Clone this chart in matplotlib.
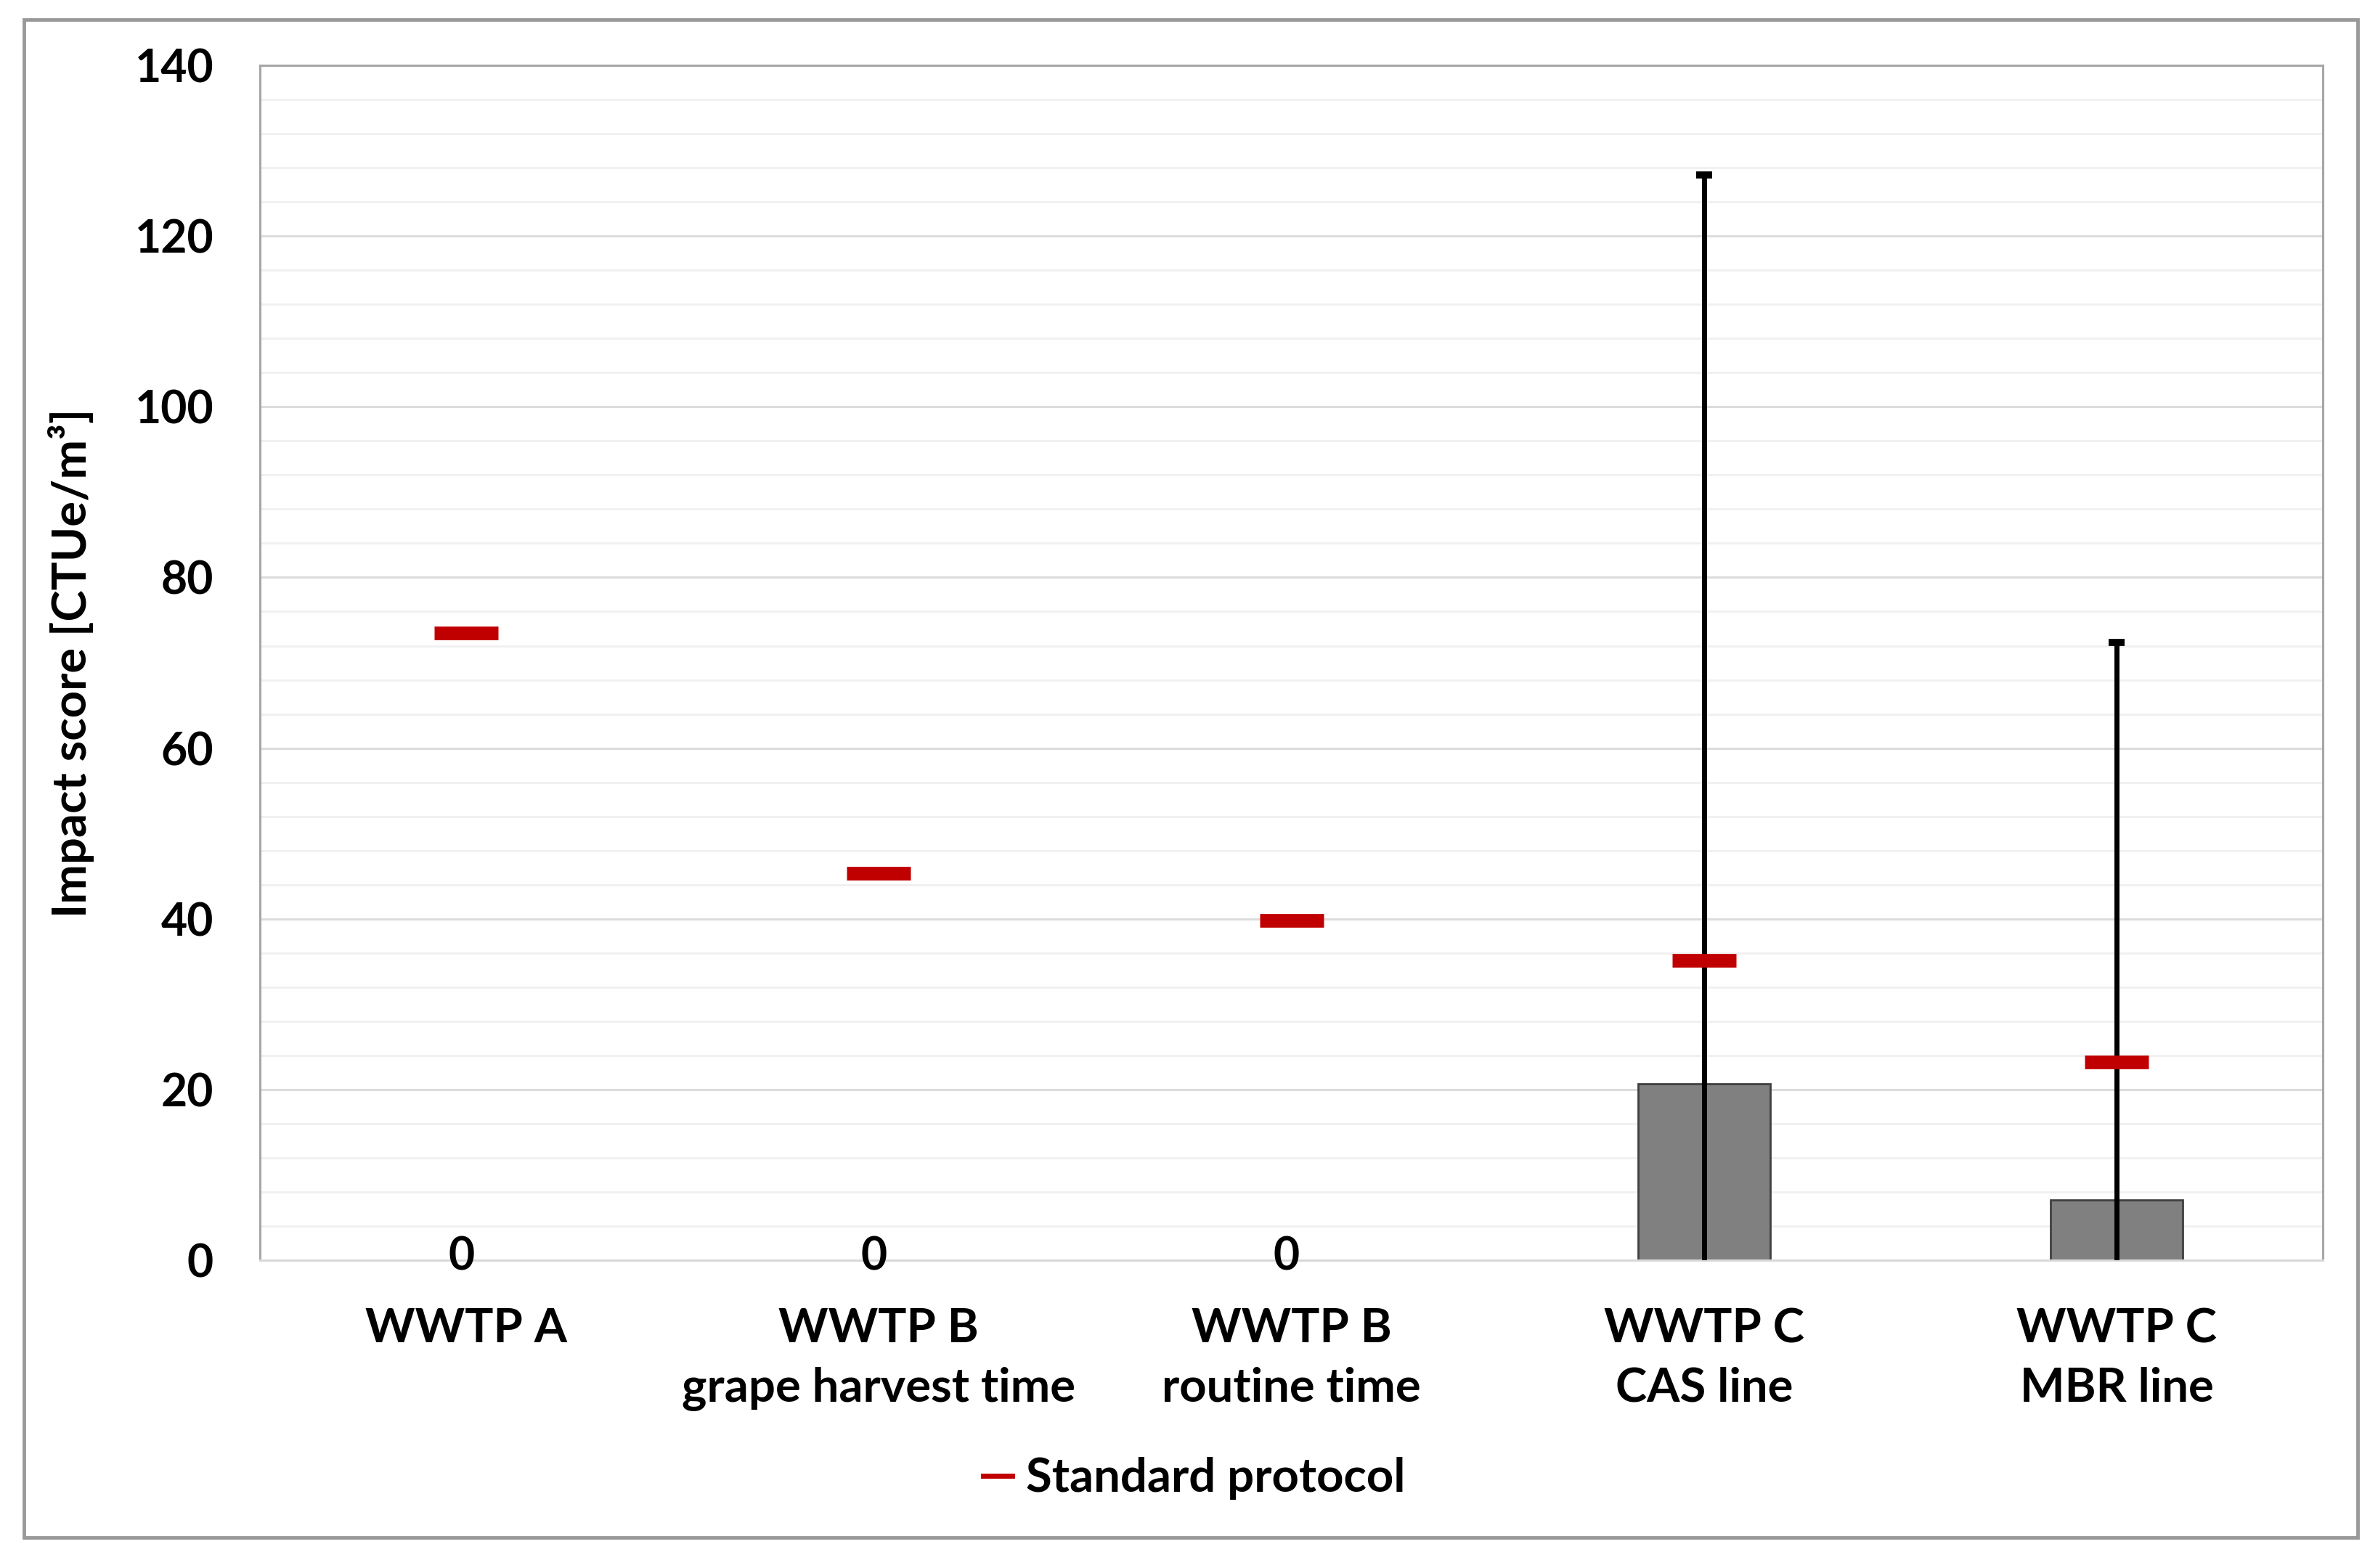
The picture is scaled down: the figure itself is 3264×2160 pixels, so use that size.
import matplotlib
matplotlib.use('Agg')
import matplotlib.pyplot as plt
from matplotlib.patches import Rectangle
from matplotlib.lines import Line2D
from matplotlib.ticker import MultipleLocator
import numpy as np

categories = ["WWTP A", "WWTP B\ngrape harvest time", "WWTP B\nroutine time",
              "WWTP C\nCAS line", "WWTP C\nMBR line"]
bar_values = [0, 0, 0, 20.7, 7.1]
bar_errors = [0, 0, 0, 106.5, 65.3]
standard_protocol = [73.5, 45.3, 39.8, 35.1, 23.2]
yticks = [0, 20, 40, 60, 80, 100, 120, 140]
legend_label = "Standard protocol"
ylabel = "Impact score [CTUe/m³]"

plt.rcParams['font.family'] = ['Lato', 'DejaVu Sans']
plt.rcParams['font.weight'] = 'bold'

fig = plt.figure(figsize=(32.64, 21.6), dpi=100)
ax = fig.add_axes([0.1097, 0.1963, 0.8704, 0.762])

x = np.arange(len(categories)) + 0.5
vals = np.array(bar_values, dtype=float)
errs = np.array(bar_errors, dtype=float)

# grid
ax.yaxis.set_major_locator(MultipleLocator(20))
ax.yaxis.set_minor_locator(MultipleLocator(4))
ax.grid(which='major', axis='y', color='#dcdcdc', lw=2.2, zorder=0)
ax.grid(which='minor', axis='y', color='#f0f0f0', lw=2.0, zorder=0)
ax.set_axisbelow(True)

ax.bar(x, vals, width=0.32, color='#808080', edgecolor='#404040', lw=2, zorder=2)
m = errs > 0
ax.errorbar(x[m], vals[m], yerr=errs[m], fmt='none', ecolor='black',
            elinewidth=5, capsize=8, capthick=7, zorder=3)
ax.plot(x, standard_protocol, ls='none', marker='_', ms=63, mew=13.5,
        color='#c00000', zorder=5)

for xi, v in zip(x, vals):
    if v == 0:
        ax.annotate('0', (xi, v), xytext=(-5, 3), textcoords='offset points',
                    ha='center', va='center', fontsize=45, fontweight='bold')

ax.set_xlim(0, 5)
ax.set_ylim(0, 140)
ax.set_yticks(yticks)
ax.set_yticklabels([str(t) for t in yticks], fontsize=45)
ax.set_xticks(x)
ax.set_xticklabels(categories, linespacing=1.47, fontsize=47)
ax.tick_params(axis='both', which='both', length=0)
ax.tick_params(axis='y', pad=46)
ax.tick_params(axis='x', pad=47)

for s in ['left', 'top', 'right']:
    ax.spines[s].set_color('#a6a6a6')
    ax.spines[s].set_linewidth(2.2)
ax.spines['bottom'].set_color('#d9d9d9')
ax.spines['bottom'].set_linewidth(2.2)

fig.text(0.030, 0.577, ylabel, rotation=90, ha='center', va='center',
         fontsize=47, fontweight='bold')

fig.legend(handles=[Line2D([], [], color='#c00000', lw=5)], labels=[legend_label],
           loc='center', bbox_to_anchor=(0.504, 0.057), frameon=False,
           handlelength=0.6, handletextpad=0.3, fontsize=47)

fig.add_artist(Rectangle((33/3264, 1-2118/2160), (3247-33)/3264, (2118-27)/2160,
                         transform=fig.transFigure, fill=False, ec='#999999', lw=3.5))

fig.savefig('out.png', dpi=100)
